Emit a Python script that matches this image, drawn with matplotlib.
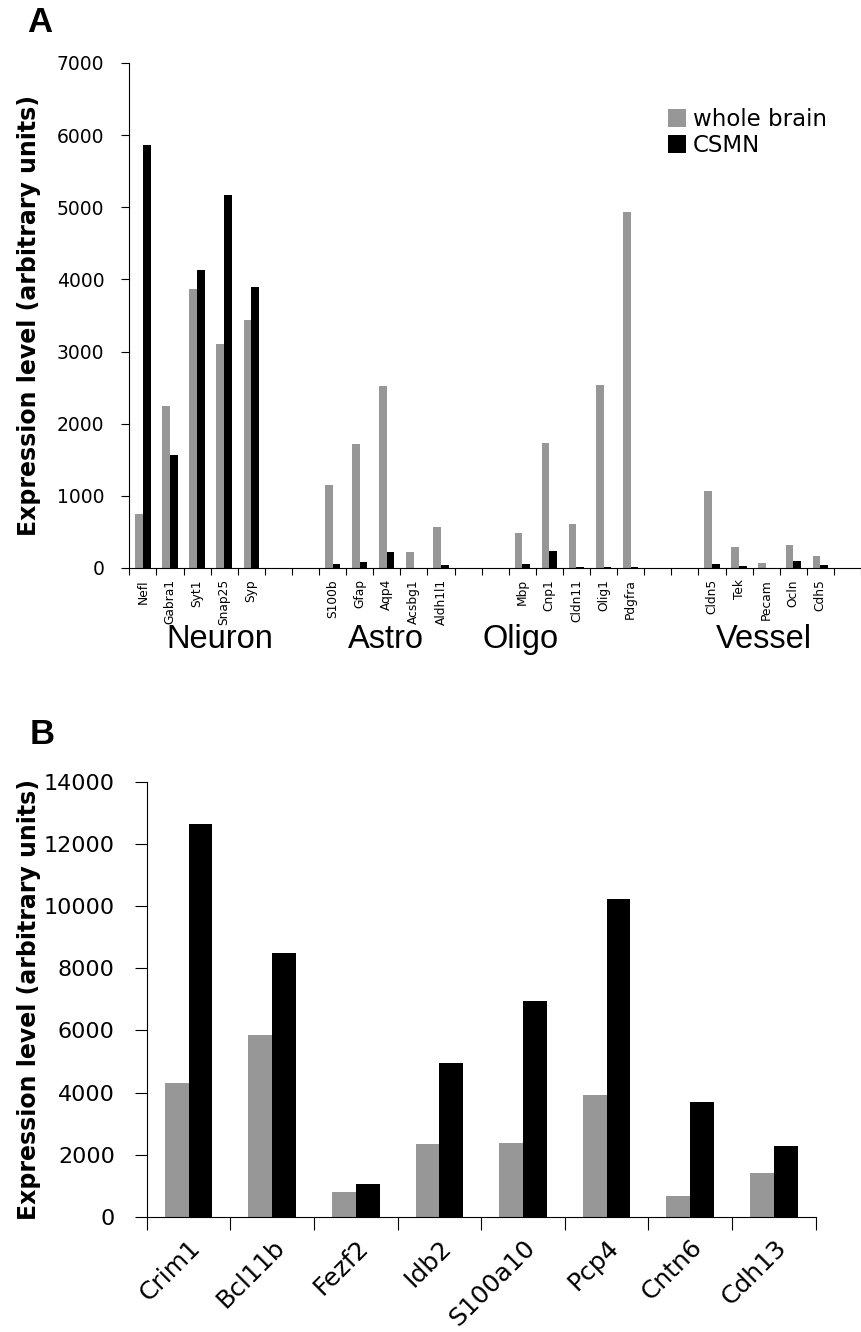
import matplotlib
matplotlib.use('Agg')
import matplotlib.pyplot as plt
from matplotlib.patches import Patch
from matplotlib.transforms import ScaledTranslation
import numpy as np

# ---------------- data: panel A ----------------
groups_a = ['Neuron', 'Astro', 'Oligo', 'Vessel']
genes_neuron = ['Nefl', 'Gabra1', 'Syt1', 'Snap25', 'Syp']
genes_astro = ['S100b', 'Gfap', 'Aqp4', 'Acsbg1', 'Aldh1l1']
genes_oligo = ['Mbp', 'Cnp1', 'Cldn11', 'Olig1', 'Pdgfra']
genes_vessel = ['Cldn5', 'Tek', 'Pecam', 'Ocln', 'Cdh5']

whole_neuron = [750, 2250, 3865, 3105, 3440]
csmn_neuron = [5870, 1570, 4130, 5165, 3900]
whole_astro = [1155, 1715, 2525, 225, 575]
csmn_astro = [55, 85, 215, 5, 35]
whole_oligo = [485, 1730, 615, 2540, 4935]
csmn_oligo = [50, 240, 15, 15, 10]
whole_vessel = [1065, 295, 70, 320, 170]
csmn_vessel = [60, 30, 5, 95, 40]

yticks_a = [0, 1000, 2000, 3000, 4000, 5000, 6000, 7000]

# ---------------- data: panel B ----------------
genes_b = ['Crim1', 'Bcl11b', 'Fezf2', 'Idb2', 'S100a10', 'Pcp4', 'Cntn6', 'Cdh13']
whole_b = [4300, 5865, 800, 2340, 2395, 3930, 680, 1415]
csmn_b = [12640, 8475, 1060, 4965, 6940, 10230, 3700, 2270]
yticks_b = [0, 2000, 4000, 6000, 8000, 10000, 12000, 14000]

series_names = ['whole brain', 'CSMN']
GRAY = '#979797'
BLACK = '#000000'

W, H = 861, 1332
fig = plt.figure(figsize=(W / 100, H / 100), dpi=100)

def fx(px):
    return px / W

def fy(py):
    return 1 - py / H

# ---------------- panel A ----------------
gene_lists = [genes_neuron, genes_astro, genes_oligo, genes_vessel]
whole_lists = [whole_neuron, whole_astro, whole_oligo, whole_vessel]
csmn_lists = [csmn_neuron, csmn_astro, csmn_oligo, csmn_vessel]
gap_slots = 2

pos, labels, wv, cv = [], [], [], []
slot = 0
for gl, wl, cl in zip(gene_lists, whole_lists, csmn_lists):
    for g, w, c in zip(gl, wl, cl):
        pos.append(slot)
        labels.append(g)
        wv.append(w)
        cv.append(c)
        slot += 1
    slot += gap_slots
n_slots = slot - gap_slots
pos = np.array(pos, dtype=float)

axA_left, axA_right, axA_top, axA_bot = 129.3, 861, 63, 568
axA = fig.add_axes([fx(axA_left), fy(axA_bot), fx(axA_right - axA_left), (axA_bot - axA_top) / H])
bw = 0.285
axA.bar(pos - bw / 2, wv, width=bw, color=GRAY)
axA.bar(pos + bw / 2, cv, width=bw, color=BLACK)
slot_w = 28.23
axA.set_xlim(-0.5, -0.5 + (axA_right - axA_left) / slot_w)
axA.set_ylim(0, 7000)
axA.set_yticks(yticks_a)
axA.set_yticklabels([str(v) for v in yticks_a], fontsize=13.5, family='DejaVu Sans')
axA.set_xticks(np.arange(-0.5, n_slots + 0.6, 1.0))
axA.set_xticklabels([])
axA.set_xticks(pos, minor=True)
axA.set_xticklabels(labels, minor=True, rotation=90, fontsize=8.8, family='DejaVu Sans')
axA.tick_params(axis='x', which='major', length=5, width=0.8, direction='out')
axA.tick_params(axis='x', which='minor', length=0, pad=8)
axA.tick_params(axis='y', length=6, width=0.8, pad=12)
for s in ['top', 'right']:
    axA.spines[s].set_visible(False)
for s in ['left', 'bottom']:
    axA.spines[s].set_linewidth(0.8)

group_label_x = [2.85, 8.98, 13.94, 22.9]
for gname, gx in zip(groups_a, group_label_x):
    axA.text(gx, (axA_bot - 640) / (axA_bot - axA_top), gname, transform=axA.get_xaxis_transform(),
             ha='center', va='center', fontsize=23.5, family='Liberation Sans')

handles = [Patch(facecolor=GRAY), Patch(facecolor=BLACK)]
fig.legend(handles, series_names, loc='upper left', bbox_to_anchor=(fx(668), fy(108)),
           frameon=False, handlelength=0.8, handleheight=0.8,
           handletextpad=0.3, labelspacing=0.12, borderpad=0, borderaxespad=0,
           prop={'family': 'DejaVu Sans', 'size': 16.5})

fig.text(fx(27), fy(6), 'A', ha='left', va='top', fontsize=25, fontweight='bold', family='Liberation Sans')
fig.text(fx(29), fy((axA_top + axA_bot) / 2), 'Expression level (arbitrary units)', rotation=90,
         ha='center', va='center', fontsize=17, fontweight='bold', family='DejaVu Sans')

# ---------------- panel B ----------------
axB_left, axB_right, axB_top, axB_bot = 146.7, 815.7, 781.7, 1217
axB = fig.add_axes([fx(axB_left), fy(axB_bot), fx(axB_right - axB_left), (axB_bot - axB_top) / H])
xb = np.arange(len(genes_b), dtype=float)
axB.bar(xb - bw / 2, whole_b, width=bw, color=GRAY)
axB.bar(xb + bw / 2, csmn_b, width=bw, color=BLACK)
axB.set_xlim(-0.5, len(genes_b) - 0.5)
axB.set_ylim(0, 14000)
axB.set_yticks(yticks_b)
axB.set_yticklabels([str(v) for v in yticks_b], fontsize=16, family='DejaVu Sans')
axB.set_xticks(np.arange(-0.5, len(genes_b), 1.0))
axB.set_xticklabels([])
axB.set_xticks(xb, minor=True)
axB.set_xticklabels(genes_b, minor=True, rotation=45, ha='right', va='top', rotation_mode='anchor',
                    fontsize=18, family='DejaVu Sans')
shift = ScaledTranslation(-8 / 100, 0, fig.dpi_scale_trans)
for lab in axB.get_xticklabels(minor=True):
    lab.set_transform(lab.get_transform() + shift)
axB.tick_params(axis='x', which='major', length=9, width=0.8, direction='out')
axB.tick_params(axis='x', which='minor', length=0, pad=13)
axB.tick_params(axis='y', length=9, width=0.8, pad=14)
for s in ['top', 'right']:
    axB.spines[s].set_visible(False)
for s in ['left', 'bottom']:
    axB.spines[s].set_linewidth(0.8)

fig.text(fx(30), fy(718), 'B', ha='left', va='top', fontsize=25, fontweight='bold', family='Liberation Sans')
fig.text(fx(29), fy((axB_top + axB_bot) / 2), 'Expression level (arbitrary units)', rotation=90,
         ha='center', va='center', fontsize=17, fontweight='bold', family='DejaVu Sans')

fig.savefig('out.png', dpi=100)
